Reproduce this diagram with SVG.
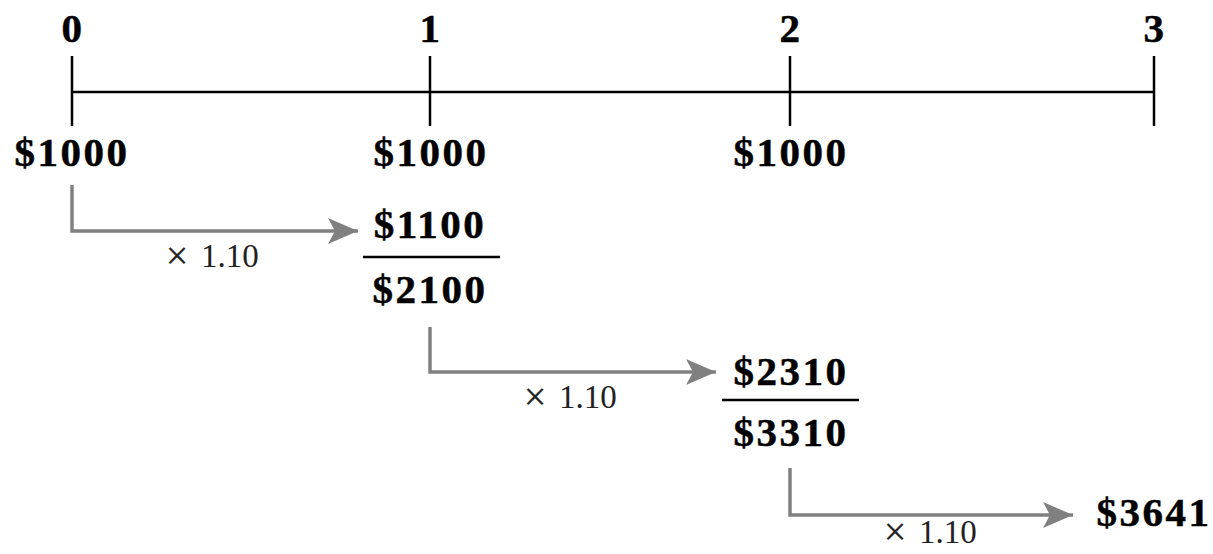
<svg xmlns="http://www.w3.org/2000/svg" width="1213" height="554" viewBox="0 0 1213 554">
<style>
.big{font-family:"Liberation Serif","Times New Roman",serif;font-weight:bold;font-size:41px;letter-spacing:2.5px;fill:#000;stroke:#000;stroke-width:0.5;text-anchor:middle}
.mul{font-family:"Liberation Serif","Times New Roman",serif;font-size:33px;fill:#222;text-anchor:start}
.x{font-family:"Liberation Serif","Times New Roman",serif;font-size:40px;fill:#222;stroke:#222;stroke-width:0.3;text-anchor:middle}
.axis{stroke:#000;stroke-width:2.5;fill:none}
.conn{stroke:#808080;stroke-width:3.5;fill:none}
.bar{stroke:#000;stroke-width:2.5}
</style>
<defs>
<marker id="ah" markerUnits="userSpaceOnUse" markerWidth="32" markerHeight="26" refX="30" refY="13" orient="auto">
<path d="M0,0 L30,13 L0,26 L7,13 Z" fill="#808080"/>
</marker>
</defs>
<g id="timeline">
<line class="axis" x1="72" y1="92" x2="1154" y2="92"/>
<line class="axis" x1="72" y1="56" x2="72" y2="126"/>
<line class="axis" x1="430" y1="56" x2="430" y2="126"/>
<line class="axis" x1="790" y1="56" x2="790" y2="126"/>
<line class="axis" x1="1154" y1="56" x2="1154" y2="126"/>
<text class="big" x="73" y="42">0</text>
<text class="big" x="431" y="42">1</text>
<text class="big" x="791" y="42">2</text>
<text class="big" x="1155" y="42">3</text>
</g>
<g id="p0"><text class="big" x="72" y="166">$1000</text></g>
<g id="p1"><text class="big" x="431" y="166">$1000</text></g>
<g id="p2"><text class="big" x="791" y="166">$1000</text></g>
<g id="sum1">
<text class="big" x="430" y="238">$1100</text>
<line class="bar" x1="363" y1="257" x2="500" y2="257"/>
<text class="big" x="430" y="303">$2100</text>
</g>
<g id="sum2">
<text class="big" x="791" y="385">$2310</text>
<line class="bar" x1="722" y1="400" x2="859" y2="400"/>
<text class="big" x="791" y="446">$3310</text>
</g>
<g id="final"><text class="big" x="1154" y="526">$3641</text></g>
<g id="connectors">
<path class="conn" d="M72,185 V231 H358" marker-end="url(#ah)"/>
<path class="conn" d="M430,327 V372 H716" marker-end="url(#ah)"/>
<path class="conn" d="M790,468 V515 H1073" marker-end="url(#ah)"/>
<text class="x" x="177" y="269">×</text>
<text class="mul" x="201" y="267">1.10</text>
<text class="x" x="535" y="410">×</text>
<text class="mul" x="559" y="408">1.10</text>
<text class="x" x="895" y="545">×</text>
<text class="mul" x="919" y="543">1.10</text>
</g>
</svg>
